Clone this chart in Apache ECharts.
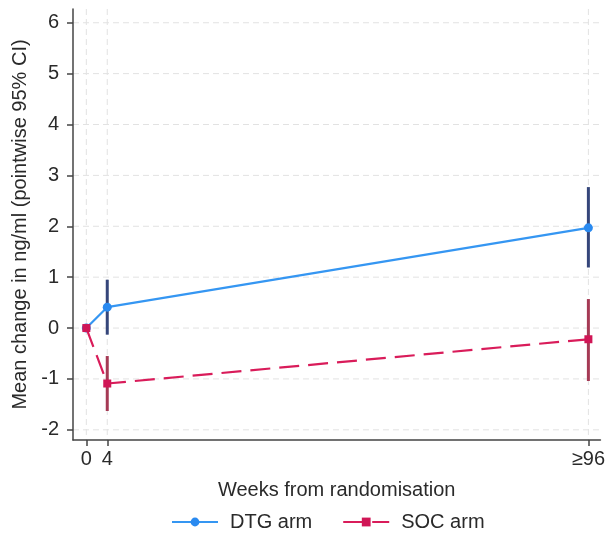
<!DOCTYPE html>
<html>
<head>
<meta charset="utf-8">
<script src="https://cdn.jsdelivr.net/npm/echarts@6/dist/echarts.min.js"></script>
<style>html,body{margin:0;padding:0;background:#fff}#c{width:608px;height:534px}</style>
</head>
<body>
<div id="c"></div>
<script>
const weeks = [0, 4, 96];
const xTickLabels = ['0', '4', '\u226596'];
const yTicks = [-2, -1, 0, 1, 2, 3, 4, 5, 6];
const dtgMean = [0, 0.41, 1.97];
const dtgLo = [null, -0.13, 1.19];
const dtgHi = [null, 0.95, 2.77];
const socMean = [0, -1.09, -0.22];
const socLo = [null, -1.63, -1.04];
const socHi = [null, -0.55, 0.57];

const FONT = 'Liberation Sans, Arial, sans-serif';
const TXT = '#2a2a2a';

function ciData(lo, hi) {
  const out = [];
  weeks.forEach((w, i) => { if (lo[i] !== null) out.push([w, lo[i], hi[i]]); });
  return out;
}
function ciSeries(lo, hi, color) {
  return {
    type: 'custom', z: 2, silent: true,
    data: ciData(lo, hi),
    encode: { x: 0, y: [1, 2] },
    renderItem: (params, api) => {
      const a = api.coord([api.value(0), api.value(1)]);
      const b = api.coord([api.value(0), api.value(2)]);
      return { type: 'line', shape: { x1: a[0], y1: a[1], x2: b[0], y2: b[1] },
        style: { stroke: color, lineWidth: 3 } };
    }
  };
}
const gridStyle = { stroke: '#e2e2e2', lineWidth: 1, lineDash: [6, 4] };
const gridH = {
  type: 'custom', z: 0, silent: true,
  data: yTicks.map(v => [0, v]),
  renderItem: (params, api) => {
    const cs = params.coordSys;
    const y = api.coord([0, api.value(1)])[1];
    return { type: 'line', shape: { x1: cs.x, y1: y, x2: cs.x + cs.width, y2: y }, style: gridStyle };
  }
};
const gridV = {
  type: 'custom', z: 0, silent: true,
  data: weeks.map(w => [w, 0]),
  renderItem: (params, api) => {
    const cs = params.coordSys;
    const x = api.coord([api.value(0), 0])[0];
    return { type: 'line', shape: { x1: x, y1: cs.y, x2: x, y2: cs.y + cs.height }, style: gridStyle };
  }
};

const chart = echarts.init(document.getElementById('c'));
chart.setOption({
  animation: false,
  backgroundColor: '#fff',
  grid: { left: 73, right: 5, top: 9, bottom: 94 },
  xAxis: {
    type: 'value', min: -2.55, max: 98.3,
    name: 'Weeks from randomisation', nameLocation: 'middle', nameGap: 40,
    nameTextStyle: { fontFamily: FONT, fontSize: 20, color: TXT },
    axisLine: { show: true, onZero: false, lineStyle: { color: '#444', width: 1.5 } },
    axisTick: { show: true, length: 6, lineStyle: { color: '#444', width: 1.5 }, customValues: weeks },
    axisLabel: { fontFamily: FONT, fontSize: 20, color: TXT, margin: 9, customValues: weeks,
      formatter: v => xTickLabels[weeks.indexOf(v)] },
    splitLine: { show: false }
  },
  yAxis: {
    type: 'value', min: -2.2, max: 6.27,
    name: 'Mean change in ng/ml (pointwise 95% CI)', nameLocation: 'middle', nameGap: 38,
    nameTextStyle: { fontFamily: FONT, fontSize: 20, color: TXT },
    axisLine: { show: true, onZero: false, lineStyle: { color: '#444', width: 1.5 } },
    axisTick: { show: true, length: 6, lineStyle: { color: '#444', width: 1.5 }, customValues: yTicks },
    axisLabel: { fontFamily: FONT, fontSize: 20, color: TXT, margin: 14, customValues: yTicks },
    splitLine: { show: false }
  },
  legend: {
    data: ['DTG arm', 'SOC arm'], top: 507, left: 166,
    itemWidth: 46, itemHeight: 11, itemGap: 30,
    textStyle: { fontFamily: FONT, fontSize: 20, color: TXT, padding: [0, 0, 0, 7] }
  },
  series: [
    gridH, gridV,
    ciSeries(dtgLo, dtgHi, '#35467a'),
    ciSeries(socLo, socHi, '#a53a55'),
    {
      name: 'DTG arm', type: 'line', z: 3,
      data: weeks.map((w, i) => [w, dtgMean[i]]),
      symbol: 'circle', symbolSize: 9,
      lineStyle: { color: '#3596f2', width: 2.2 },
      itemStyle: { color: '#2a8af0' }
    },
    {
      name: 'SOC arm', type: 'line', z: 4,
      data: weeks.map((w, i) => [w, socMean[i]]),
      symbol: 'rect', symbolSize: 8,
      lineStyle: { color: '#d91c5a', width: 2.2, type: [20, 9] },
      itemStyle: { color: '#d01656' }
    }
  ]
});
</script>
</body>
</html>
